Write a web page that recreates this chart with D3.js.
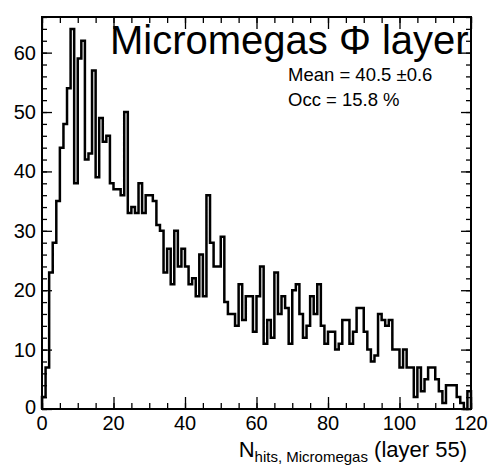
<!DOCTYPE html>
<html>
<head>
<meta charset="utf-8">
<script src="https://cdn.jsdelivr.net/npm/d3@7"></script>
<style>
html,body{margin:0;padding:0;background:#fff;}
svg{display:block;}
text{font-family:"Liberation Sans",Arial,Helvetica,sans-serif;fill:#000;}
</style>
</head>
<body>
<svg id="chart" width="492" height="466"></svg>
<script>
// ---- data ----
const binEdges = [0, 120];           // histogram range
const binCounts = [
  2, 7, 23, 28, 35, 44, 48, 54, 64, 38,
  59, 62, 42, 43, 57, 39, 49, 45, 46, 38,
  37, 37, 36, 50, 33, 34, 33, 38, 33, 36,
  36, 35, 31, 30, 23, 27, 21, 30, 24, 27,
  24, 21, 22, 19, 26, 19, 36, 28, 24, 24,
  29, 18, 16, 16, 14, 21, 15, 19, 19, 13,
  19, 24, 11, 15, 12, 23, 16, 19, 17, 11,
  20, 21, 16, 12, 14, 19, 16, 21, 14, 11,
  13, 13, 10, 11, 15, 15, 11, 13, 17, 17,
  13, 10, 8, 9, 16, 15, 14, 15, 10, 10,
  7, 10, 7, 7, 2, 7, 3, 5, 7, 7,
  5, 3, 1, 4, 4, 4, 2, 1, 0, 3
];
const xTickLabels = [0, 20, 40, 60, 80, 100, 120];
const yTickLabels = [0, 10, 20, 30, 40, 50, 60];
const yMax = 66;
const titleText = "Micromegas \u03A6 layer";
const statLines = ["Mean = 40.5 \u00B10.6", "Occ = 15.8 %"];

// ---- layout ----
const svg = d3.select("#chart");
const L = 42, R = 471, T = 17, B = 409;
const x = d3.scaleLinear().domain(binEdges).range([L, R]);
const y = d3.scaleLinear().domain([0, yMax]).range([B, T]);

const xMinor = d3.range(0, 121, 5);
const yMinor = d3.range(0, yMax + 0.001, 2);

function styleAxis(g) {
  g.select(".domain").remove();
  g.selectAll(".tick line").attr("stroke", "#000").attr("stroke-width", 1.3);
  g.selectAll(".tick text").remove();
}
// bottom
svg.append("g").attr("transform", `translate(0,${B})`)
  .call(d3.axisBottom(x).tickValues(xMinor).tickSize(-6)).call(styleAxis);
svg.append("g").attr("transform", `translate(0,${B})`)
  .call(d3.axisBottom(x).tickValues(xTickLabels).tickSize(-12)).call(styleAxis);
// top
svg.append("g").attr("transform", `translate(0,${T})`)
  .call(d3.axisTop(x).tickValues(xMinor).tickSize(-6)).call(styleAxis);
svg.append("g").attr("transform", `translate(0,${T})`)
  .call(d3.axisTop(x).tickValues(xTickLabels).tickSize(-12)).call(styleAxis);
// left
svg.append("g").attr("transform", `translate(${L},0)`)
  .call(d3.axisLeft(y).tickValues(yMinor).tickSize(-5)).call(styleAxis);
svg.append("g").attr("transform", `translate(${L},0)`)
  .call(d3.axisLeft(y).tickValues(yTickLabels).tickSize(-10)).call(styleAxis);
// right
svg.append("g").attr("transform", `translate(${R},0)`)
  .call(d3.axisRight(y).tickValues(yMinor).tickSize(-5)).call(styleAxis);
svg.append("g").attr("transform", `translate(${R},0)`)
  .call(d3.axisRight(y).tickValues(yTickLabels).tickSize(-10)).call(styleAxis);

// histogram outline
const pts = [[0, 0]];
binCounts.forEach((v, i) => { pts.push([i, v]); pts.push([i + 1, v]); });
pts.push([binCounts.length, 0]);
const line = d3.line().x(d => x(d[0])).y(d => y(d[1]));
svg.append("path").attr("d", line(pts))
  .attr("fill", "none").attr("stroke", "#000")
  .attr("stroke-width", 2.5).attr("stroke-linejoin", "miter");

// frame
svg.append("rect").attr("x", L).attr("y", T).attr("width", R - L).attr("height", B - T)
  .attr("fill", "none").attr("stroke", "#000").attr("stroke-width", 2);

// tick labels
svg.append("g").selectAll("text").data(xTickLabels).join("text")
  .attr("x", d => x(d)).attr("y", 430)
  .attr("text-anchor", "middle").attr("font-size", 20).text(d => d);
svg.append("g").selectAll("text").data(yTickLabels).join("text")
  .attr("x", 36).attr("y", d => d === 0 ? 414 : y(d) + 7)
  .attr("text-anchor", "end").attr("font-size", 20).text(d => d);

// axis title
const at = svg.append("text").attr("x", R - 4).attr("y", 457)
  .attr("text-anchor", "end").attr("font-size", 22);
at.append("tspan").text("N");
at.append("tspan").attr("font-size", 15).attr("dy", 5).text("hits, Micromegas");
at.append("tspan").attr("dy", -5).text(" (layer 55)");

// title
svg.append("text").attr("x", 110).attr("y", 54).attr("font-size", 40).text(titleText);

// stats
svg.append("g").selectAll("text").data(statLines).join("text")
  .attr("x", 288).attr("y", (d, i) => 81 + i * 25)
  .attr("font-size", 18.5).text(d => d);
</script>
</body>
</html>
